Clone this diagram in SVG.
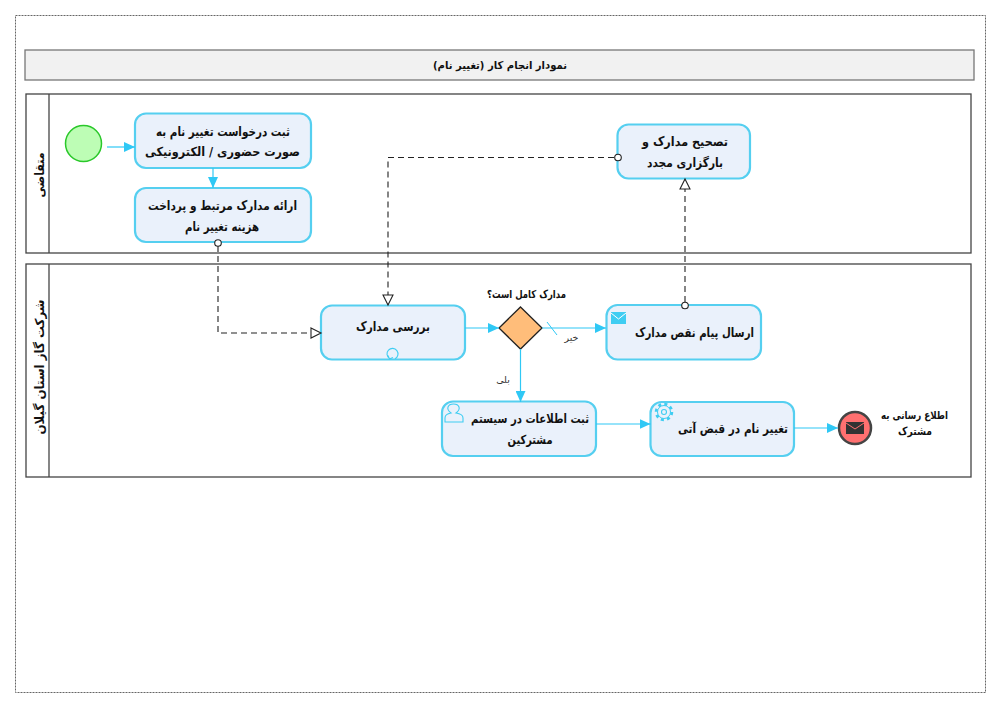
<svg xmlns="http://www.w3.org/2000/svg" width="1000" height="707" viewBox="0 0 1000 707">
<defs>
<style>
text{font-family:"DejaVu Sans","Noto Sans",sans-serif;text-anchor:middle;fill:#111;direction:rtl}
.t{font-size:12.5px;font-weight:700}
.s{font-size:11px;font-weight:700}
.l{font-size:9.500px;fill:#333}
.task{fill:#eaf1fb;stroke:#55cff0;stroke-width:2.200}
.pool{fill:#fff;stroke:#444;stroke-width:1.300}
.flow{fill:none;stroke:#2fc8f5;stroke-width:1.200}
.msg{fill:none;stroke:#222;stroke-width:1.100;stroke-dasharray:6 4}
.ico{fill:none;stroke:#3fcdf2;stroke-width:1.100}
.dot{fill:#fff;stroke:#222;stroke-width:1.100}
</style>
<marker id="a" markerUnits="userSpaceOnUse" markerWidth="12" markerHeight="10" refX="11" refY="5" orient="auto"><path d="M0 0L11 5L0 10Z" fill="#2fc8f5"/></marker>
<marker id="m" markerUnits="userSpaceOnUse" markerWidth="13" markerHeight="12" refX="11" refY="6" orient="auto"><path d="M1 1L11 6L1 11Z" fill="#fff" stroke="#222" stroke-width="1.100"/></marker>
</defs>
<rect width="1000" height="707" fill="#fff"/>
<rect x="15.500" y="15.500" width="970" height="677" fill="none" stroke="#666" stroke-width="1" stroke-dasharray="2 1"/>
<g id="title"><rect x="25" y="50" width="949" height="30" fill="#f1f1f1" stroke="#777" stroke-width="1.300"/><text class="s" x="500" y="69" textLength="134" lengthAdjust="spacingAndGlyphs">نمودار انجام کار (تغییر نام)</text></g>
<g id="pool-applicant"><rect class="pool" x="26" y="94" width="945" height="159"/><path d="M49 94V253" stroke="#444" stroke-width="1.300"/><text class="t" transform="translate(44 175) rotate(-90)" textLength="45" lengthAdjust="spacingAndGlyphs">متقاضی</text></g>
<g id="pool-company"><rect class="pool" x="26" y="264" width="945" height="213"/><path d="M49 264V477" stroke="#444" stroke-width="1.300"/><text class="t" transform="translate(44 367) rotate(-90)" textLength="135" lengthAdjust="spacingAndGlyphs">شرکت گاز استان گیلان</text></g>
<g id="start"><circle cx="83.500" cy="143.500" r="18" fill="#bdfdb5" stroke="#2ac82a" stroke-width="1.500"/></g>
<g id="task-request"><rect class="task" x="135" y="113.500" width="176" height="54.500" rx="11"/><text class="t" x="223" y="136" textLength="134" lengthAdjust="spacingAndGlyphs">ثبت درخواست تغییر نام به</text><text class="t" x="222.500" y="156" textLength="155" lengthAdjust="spacingAndGlyphs">صورت حضوری / الکترونیکی</text></g>
<g id="task-docs"><rect class="task" x="135" y="188" width="176" height="54" rx="11"/><text class="t" x="222.500" y="210" textLength="149" lengthAdjust="spacingAndGlyphs">ارائه مدارک مرتبط و پرداخت</text><text class="t" x="222" y="231" textLength="74" lengthAdjust="spacingAndGlyphs">هزینه تغییر نام</text></g>
<g id="task-correct"><rect class="task" x="617.500" y="124.500" width="132.500" height="54" rx="11"/><text class="t" x="685" y="146" textLength="86" lengthAdjust="spacingAndGlyphs">تصحیح مدارک و</text><text class="t" x="685" y="167" textLength="76" lengthAdjust="spacingAndGlyphs">بارگزاری مجدد</text></g>
<g id="task-review"><rect class="task" x="321" y="305.500" width="144" height="54" rx="11"/><text class="t" x="393" y="331" textLength="74" lengthAdjust="spacingAndGlyphs">بررسی مدارک</text><path class="ico" d="M389.500 358.500A5.500 5.500 0 1 1 395 358.800M388 355.500L389.500 359L393 357.500"/></g>
<g id="gateway"><path d="M520.500 307L542 328L520.500 349L499 328Z" fill="#ffbd7a" stroke="#222" stroke-width="1.300"/><text class="s" x="526.500" y="297.500" textLength="79" lengthAdjust="spacingAndGlyphs">مدارک کامل است؟</text></g>
<g id="task-send"><rect class="task" x="606.500" y="305" width="154.500" height="54.500" rx="11"/><rect x="611" y="312" width="15" height="12" fill="#3fcdf2"/><path d="M611 313L618.500 319L626 313" fill="none" stroke="#fff" stroke-width="1"/><text class="t" x="694.500" y="337" textLength="119" lengthAdjust="spacingAndGlyphs">ارسال پیام نقص مدارک</text></g>
<g id="task-user"><rect class="task" x="442" y="401.500" width="154" height="54.500" rx="11"/><path class="ico" d="M445 422V418Q445 414 451 413Q447 410 448 407Q449 404 453.500 404Q458 404 459 407Q460 410 456 413Q463 414 463 418V422Z"/><text class="t" x="530" y="423" textLength="118" lengthAdjust="spacingAndGlyphs">ثبت اطلاعات در سیستم</text><text class="t" x="530" y="444" textLength="45" lengthAdjust="spacingAndGlyphs">مشترکین</text></g>
<g id="task-service"><rect class="task" x="650.500" y="402" width="143.500" height="54" rx="11"/><circle cx="664" cy="412" r="7.500" fill="none" stroke="#3fcdf2" stroke-width="3.500" stroke-dasharray="2.900 3"/><circle cx="664" cy="412" r="6.500" fill="#eaf1fb" stroke="#3fcdf2" stroke-width="1"/><circle class="ico" cx="664" cy="412" r="2.500"/><text class="t" x="733" y="433" textLength="110" lengthAdjust="spacingAndGlyphs">تغییر نام در قبض آتی</text></g>
<g id="end"><circle cx="855" cy="428" r="16" fill="#ff7070" stroke="#444" stroke-width="2.500"/><rect x="846" y="422" width="18" height="12" fill="#333"/><path d="M846 423L855 429L864 423" fill="none" stroke="#ff7070" stroke-width="1"/><text class="s" x="914.500" y="419" textLength="67" lengthAdjust="spacingAndGlyphs">اطلاع رسانی به</text><text class="s" x="915" y="435" textLength="34" lengthAdjust="spacingAndGlyphs">مشترک</text></g>
<g id="connectors">
<path class="flow" marker-end="url(#a)" d="M107 147H135"/>
<path class="flow" marker-end="url(#a)" d="M213 168V188"/>
<path class="flow" marker-end="url(#a)" d="M465 328H499"/>
<path class="flow" marker-end="url(#a)" d="M542 328H606"/>
<path d="M547 322L557 335" stroke="#2fc8f5" stroke-width="1" fill="none"/>
<path class="flow" marker-end="url(#a)" d="M520.500 349V402"/>
<path class="flow" marker-end="url(#a)" d="M596 424H650.500"/>
<path class="flow" marker-end="url(#a)" d="M794 428H838"/>
<path class="msg" marker-end="url(#m)" d="M218 246V333H321"/>
<path class="msg" marker-end="url(#m)" d="M614 157.500H388V305"/>
<path class="msg" marker-end="url(#m)" d="M685 302V179"/>
<circle class="dot" cx="218" cy="243" r="3.300"/>
<circle class="dot" cx="618" cy="157.500" r="3.300"/>
<circle class="dot" cx="685" cy="305.500" r="3.300"/>
<text class="l" x="571.500" y="341">خیر</text>
<text class="l" x="503" y="383">بلی</text>
</g>
</svg>
